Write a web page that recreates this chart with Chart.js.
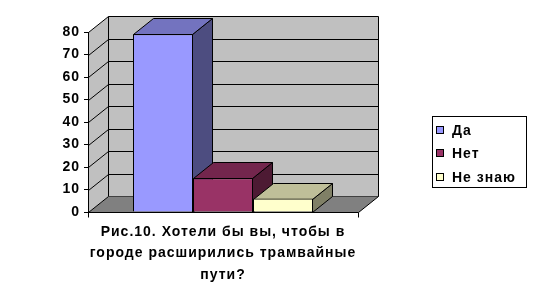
<!DOCTYPE html>
<html>
<head>
<meta charset="utf-8">
<script src="https://cdn.jsdelivr.net/npm/chart.js@4.4.1/dist/chart.umd.min.js"></script>
<style>
  html, body { margin: 0; padding: 0; background: #fff; }
  #wrap { width: 535px; height: 304px; }
</style>
</head>
<body>
<div id="wrap"><canvas id="chart" width="535" height="304"></canvas></div>
<script>
// Data (percent of answers)
const categories = [''];
const seriesNames = ['Да', 'Нет', 'Не знаю'];
const seriesValues = [79, 15, 6];
const yMin = 0;
const yMax = 80;
const yStep = 10;
const captionLines = ['Рис.10. Хотели бы вы, чтобы в', 'городе расширились трамвайные', 'пути?'];

// Excel-like palette: front, top, side of each column
const frontColors = ['#9999FF', '#993366', '#FFFFCC'];
const topColors = ['#7373BF', '#73264D', '#BFBF99'];
const sideColors = ['#4D4D80', '#4D1A33', '#808066'];

// depth of the fake 3D box
const DX = 20;
const DY = -16;
const FONT = 'Liberation Sans, Arial, sans-serif';

function poly(ctx, pts, fill, stroke) {
  ctx.beginPath();
  ctx.moveTo(pts[0][0], pts[0][1]);
  for (let i = 1; i < pts.length; i++) ctx.lineTo(pts[i][0], pts[i][1]);
  ctx.closePath();
  if (fill) { ctx.fillStyle = fill; ctx.fill(); }
  if (stroke) { ctx.strokeStyle = stroke; ctx.lineWidth = 1; ctx.stroke(); }
}

// Walls, floor and gridlines behind the columns
const wallsPlugin = {
  id: 'walls',
  beforeDraw(chart) {
    const ctx = chart.ctx;
    // old Excel text looks spaced out
    ctx.letterSpacing = '1px';
    const a = chart.chartArea;
    const y = chart.scales.y;
    const L = Math.round(a.left) + 0.5;
    const R = Math.round(a.right) + 0.5;
    const T = Math.round(a.top) + 0.5;
    const B = Math.round(a.bottom) + 0.5;
    ctx.save();
    // left side wall
    poly(ctx, [[L, T], [L + DX, T + DY], [L + DX, B + DY], [L, B]], '#C0C0C0', null);
    // back wall
    poly(ctx, [[L + DX, T + DY], [R + DX, T + DY], [R + DX, B + DY], [L + DX, B + DY]], '#C0C0C0', '#000');
    // floor
    poly(ctx, [[L, B], [L + DX, B + DY], [R + DX, B + DY], [R, B]], '#808080', null);
    // gridlines on back wall and side wall
    ctx.strokeStyle = '#000';
    ctx.lineWidth = 1;
    for (let v = yMin; v <= yMax; v += yStep) {
      const py = Math.round(y.getPixelForValue(v)) + 0.5;
      ctx.beginPath();
      ctx.moveTo(L, py);
      ctx.lineTo(L + DX, py + DY);
      if (v > yMin && v < yMax) ctx.lineTo(R + DX, py + DY);
      ctx.stroke();
    }
    // floor right edge
    ctx.beginPath();
    ctx.moveTo(R, B);
    ctx.lineTo(R + DX, B + DY);
    ctx.stroke();
    ctx.restore();
  }
};

// Tops and sides of the columns, fronts are drawn by Chart.js on top
const columnsPlugin = {
  id: 'columns3d',
  beforeDatasetsDraw(chart) {
    const ctx = chart.ctx;
    ctx.save();
    chart.data.datasets.forEach((ds, i) => {
      const bar = chart.getDatasetMeta(i).data[0];
      if (!bar) return;
      const l = Math.round(bar.x - bar.width / 2) + 0.5;
      const r = Math.round(bar.x + bar.width / 2) - 0.5;
      const t = Math.round(bar.y) + 0.5;
      const b = Math.round(bar.base) + 0.5;
      poly(ctx, [[r, t], [r + DX, t + DY], [r + DX, b + DY], [r, b]], sideColors[i], '#000');
      poly(ctx, [[l, t], [l + DX, t + DY], [r + DX, t + DY], [r, t]], topColors[i], '#000');
    });
    ctx.restore();
  },
  afterDatasetsDraw(chart) {
    const ctx = chart.ctx;
    const a = chart.chartArea;
    const L = Math.round(a.left) + 0.5;
    const R = Math.round(a.right) + 0.5;
    const B = Math.round(a.bottom) + 0.5;
    ctx.save();
    ctx.strokeStyle = '#000';
    ctx.lineWidth = 1;
    ctx.beginPath();
    ctx.moveTo(L, B);
    ctx.lineTo(R, B);
    ctx.moveTo(L, B);
    ctx.lineTo(L, B + 5);
    ctx.moveTo(R, B);
    ctx.lineTo(R, B + 5);
    ctx.stroke();
    ctx.restore();
  }
};

// Boxed legend on the right
const legendPlugin = {
  id: 'boxLegend',
  afterDraw(chart) {
    const ctx = chart.ctx;
    const bx = 432.5, by = 116.5, bw = 94, bh = 71;
    ctx.save();
    ctx.fillStyle = '#fff';
    ctx.fillRect(bx, by, bw, bh);
    ctx.strokeStyle = '#000';
    ctx.lineWidth = 1;
    ctx.strokeRect(bx, by, bw, bh);
    ctx.font = 'bold 14px ' + FONT;
    ctx.textBaseline = 'middle';
    seriesNames.forEach((name, i) => {
      const cy = 130 + i * 23.4;
      ctx.fillStyle = frontColors[i];
      ctx.fillRect(436.5, Math.round(cy) - 3.5, 7, 7);
      ctx.strokeRect(436.5, Math.round(cy) - 3.5, 7, 7);
      ctx.fillStyle = '#000';
      ctx.fillText(name, 452, cy + 1);
    });
    ctx.restore();
  }
};

new Chart(document.getElementById('chart'), {
  type: 'bar',
  data: {
    labels: categories,
    datasets: seriesNames.map((name, i) => ({
      label: name,
      data: [seriesValues[i]],
      backgroundColor: frontColors[i],
      borderColor: '#000',
      borderWidth: 1,
      categoryPercentage: 0.6667,
      barPercentage: 1
    }))
  },
  options: {
    responsive: false,
    animation: false,
    layout: { padding: { top: 32, left: 0, right: 177, bottom: 0 } },
    scales: {
      x: { display: false },
      y: {
        min: yMin,
        max: yMax,
        ticks: { stepSize: yStep, color: '#000', font: { family: FONT, size: 14, weight: 'bold' }, padding: 4 },
        grid: { drawOnChartArea: false, tickLength: 4, color: '#000' },
        border: { display: true, color: '#000' },
        afterFit(scale) { scale.width = 88; }
      }
    },
    plugins: {
      legend: { display: false },
      tooltip: { enabled: false },
      title: {
        display: true,
        position: 'bottom',
        fullSize: false,
        text: captionLines,
        color: '#000',
        font: { family: FONT, size: 14, weight: 'bold', lineHeight: 1.5357 },
        padding: { top: 9, bottom: 18.5 }
      }
    }
  },
  plugins: [wallsPlugin, columnsPlugin, legendPlugin]
});
</script>
</body>
</html>
